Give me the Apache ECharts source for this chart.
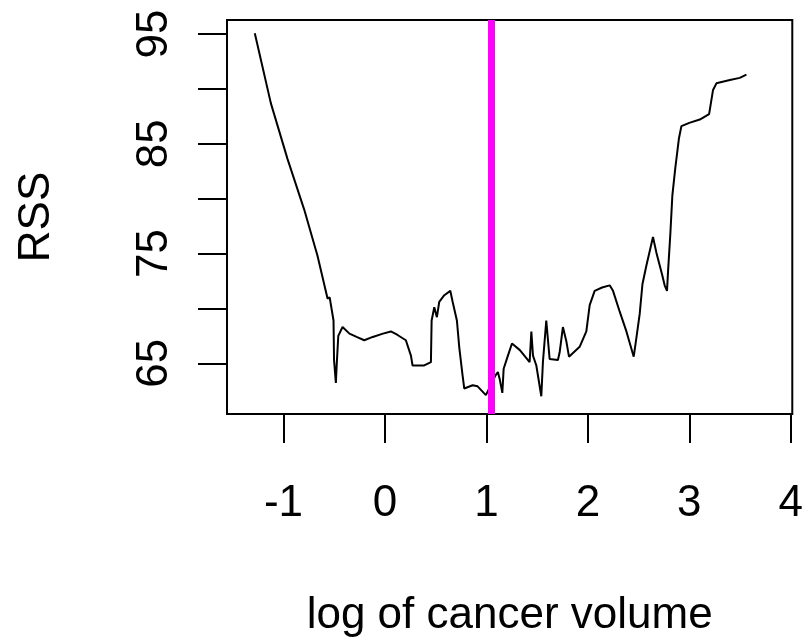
<!DOCTYPE html>
<html>
<head>
<meta charset="utf-8">
<script src="https://cdn.jsdelivr.net/npm/echarts@6/dist/echarts.min.js"></script>
<style>
html,body{margin:0;padding:0;background:#fff;}
#chart{width:806px;height:643px;}
</style>
</head>
<body>
<div id="chart"></div>
<script>
// log of cancer volume (x) and RSS (y)
const logVolume = [-1.283, -1.125, -0.96, -0.796, -0.665, -0.566, -0.545, -0.507, -0.502, -0.484, -0.476, -0.46, -0.418,
  -0.35, -0.28, -0.204, -0.12, -0.02, 0.058, 0.12, 0.206, 0.256, 0.272, 0.387, 0.453, 0.46, 0.486, 0.512, 0.535, 0.585,
  0.644, 0.667, 0.709, 0.733, 0.765, 0.782, 0.864, 0.913, 0.995, 1.0, 1.09, 1.113, 1.13, 1.157, 1.17, 1.212, 1.252,
  1.33, 1.426, 1.443, 1.459, 1.492, 1.541, 1.557, 1.59, 1.623, 1.705, 1.722, 1.754, 1.788, 1.814, 1.919, 1.985, 2.018,
  2.067, 2.14, 2.215, 2.248, 2.314, 2.38, 2.452, 2.478, 2.511, 2.538, 2.577, 2.642, 2.675, 2.734, 2.757, 2.78, 2.79,
  2.813, 2.833, 2.862, 2.898, 2.922, 3.0, 3.103, 3.195, 3.234, 3.267, 3.4, 3.497, 3.563];
const rss = [95.06, 88.7, 83.6, 79.0, 74.8, 70.9, 71.0, 68.9, 65.3, 63.2, 64.8, 67.5, 68.3,
  67.7, 67.4, 67.1, 67.4, 67.7, 67.9, 67.6, 67.1, 65.7, 64.8, 64.8, 65.1, 68.9, 70.1, 69.2, 70.6, 71.2,
  71.6, 70.6, 68.9, 66.4, 63.9, 62.7, 63.0, 62.9, 62.1, 62.1, 63.9, 64.2, 63.6, 62.3, 64.5, 65.7, 66.8,
  66.2, 65.1, 67.9, 65.7, 64.8, 62.0, 65.1, 68.9, 65.4, 65.3, 66.0, 68.3, 67.0, 65.6, 66.5, 67.9, 70.3,
  71.6, 71.9, 72.1, 71.6, 69.7, 67.9, 65.6, 67.3, 69.5, 72.2, 73.9, 76.5, 75.1, 73.0, 72.1, 71.6, 73.3,
  76.8, 80.3, 82.8, 85.5, 86.6, 86.9, 87.2, 87.7, 89.9, 90.5, 90.8, 91.0, 91.3];
const xTicks = [-1, 0, 1, 2, 3, 4];
const yTicks = [65, 70, 75, 80, 85, 90, 95];
const yLabels = [65, 75, 85, 95];
const bestCut = [1.05];

const font = 'Liberation Sans, Arial, sans-serif';
const chart = echarts.init(document.getElementById('chart'), null, {renderer: 'canvas'});
chart.setOption({
  animation: false,
  backgroundColor: '#fff',
  grid: {left: 227, right: 13, top: 20, bottom: 228, show: true, borderColor: '#000', borderWidth: 2, containLabel: false},
  xAxis: {
    type: 'value', min: -1.557, max: 4.015,
    name: 'log of cancer volume', nameLocation: 'middle', nameGap: 180,
    nameTextStyle: {fontSize: 44, color: '#000', fontFamily: font},
    axisLine: {show: false, onZero: false},
    splitLine: {show: false},
    axisTick: {show: true, inside: false, length: 29, customValues: xTicks, lineStyle: {color: '#000', width: 2}},
    axisLabel: {show: true, customValues: xTicks, margin: 68, fontSize: 44, color: '#000', fontFamily: font}
  },
  yAxis: {
    type: 'value', min: 60.38, max: 96.27,
    name: 'RSS', nameLocation: 'middle', nameGap: 168, nameRotate: 90,
    nameTextStyle: {fontSize: 44, color: '#000', fontFamily: font},
    axisLine: {show: false, onZero: false},
    splitLine: {show: false},
    axisTick: {show: true, inside: false, length: 29, customValues: yTicks, lineStyle: {color: '#000', width: 2}},
    axisLabel: {show: true, customValues: yLabels, rotate: 90, margin: 50, fontSize: 44, color: '#000', fontFamily: font}
  },
  series: [{
    type: 'line',
    data: logVolume.map((x, i) => [x, rss[i]]),
    showSymbol: false,
    lineStyle: {color: '#000', width: 2},
    markLine: {
      silent: true, symbol: 'none', label: {show: false},
      lineStyle: {color: '#FF00FF', width: 7, type: 'solid'},
      data: bestCut.map(v => ({xAxis: v}))
    }
  }]
});
</script>
</body>
</html>
